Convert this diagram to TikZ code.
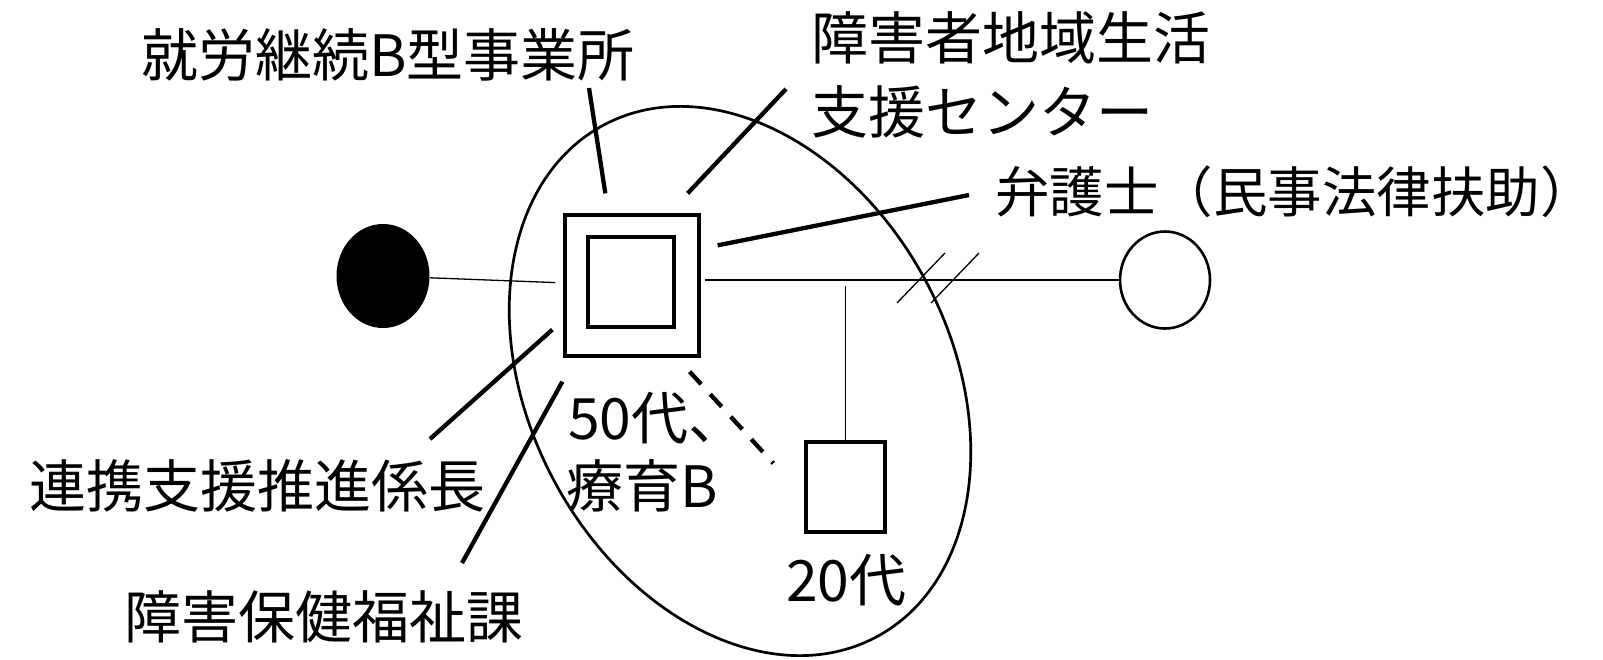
\documentclass[tikz,border=0pt]{standalone}
\usepackage{fontspec}
\setmainfont{Noto Sans CJK JP}
\usetikzlibrary{
  shapes.geometric
}
\tikzset{
  % For male members.
  hollow square/.style={
    draw,
    line width=3.3pt,
    fill=white,
    inner sep=0pt},
%
  % For female members.
  hollow dot/.style={
    draw,
    ellipse,
    line width=2.6pt,
    inner sep=0pt},
  filled dot/.style={
    fill,
    ellipse,
    inner sep=0pt},
%
  % For the household.
  household/.style={
    line width=2.7pt},
%
  % For family ties.
  thin line/.style={
    line width=1.3pt},
  % For the weak tie.
  weak line/.style={
    line width=4.3pt,
    dash pattern=on 17pt off 13.5pt},
  % For the supporters.
  tie/.style={
    line width=4.3pt},
%
  % For names.
  description/.style={
    font=\fontsize{57}{68}\selectfont,
    inner sep=0pt,
    anchor=west},
}
\begin{document}
\begin{tikzpicture}[x=1pt, y=-1pt]
  \useasboundingbox (0,0) rectangle (1603,659);

  \draw[household] (740,381) ellipse [x radius=290, y radius=211, rotate=-62];

  \node[hollow square, minimum width=134pt, minimum height=141pt] (father) at (632,285.5) {};
  \node[hollow square, minimum width=86pt, minimum height=90pt] (father inner) at (631,282) {};
  \node[filled dot, minimum width=93pt, minimum height=104pt] (mother) at (383,276) {};
  \node[hollow dot, minimum width=90pt, minimum height=97pt] (wife) at (1165,280) {};
  \node[hollow square, minimum width=79pt, minimum height=90pt] (son) at (845.5,487) {};

  \node[description] (father age) at (568,418) {50代、};
  \node[description] (father grade) at (566,486) {療育B};
  \node[description] (son age) at (786,580) {20代};

  \node[description] (job) at (141,55) {就労継続B型事業所};
  \node[description] (centre a) at (811,38) {障害者地域生活};
  \node[description] (centre b) at (811,112) {支援センター};
  \node[description, font=\fontsize{54.5}{66}\selectfont] (lawyer) at (995,192) {弁護士（民事法律扶助）};
  \node[description] (chief) at (29,486) {連携支援推進係長};
  \node[description] (welfare) at (124,617) {障害保健福祉課};

  \draw[thin line, shorten >=8pt] (mother) -- (father);
  \draw[thin line, shorten <=4pt] (father.east |- wife.west) -- (wife.west);
  \draw[thin line, shorten >=6pt] (son.north) -- (son.north |- wife.west);
  \foreach \cx in {921,955}
    \draw[thin line] ({\cx-24},303) -- ({\cx+24},253);

  \draw[weak line] ([shift={(-11,14)}]father.south east) -- ([shift={(-31,23)}]son.north west);

  \coordinate (job tip) at (589,88);
  \coordinate (centre tip) at (786,89);
  \coordinate (lawyer tip) at (969,195);
  \coordinate (chief tip) at (430,439);
  \coordinate (welfare tip) at (462,563);

  \draw[tie] (job tip) -- ([shift={(42,-20)}]father.north west);
  \draw[tie] (centre tip) -- ([shift={(-13,-20)}]father.north east);
  \draw[tie] (lawyer tip) -- ([shift={(17,32)}]father.north east);
  \draw[tie] (chief tip) -- ([shift={(-11,-28)}]father.south west);
  \draw[tie] (welfare tip) -- ([shift={(-1,24)}]father.south west);
\end{tikzpicture}
\end{document}
